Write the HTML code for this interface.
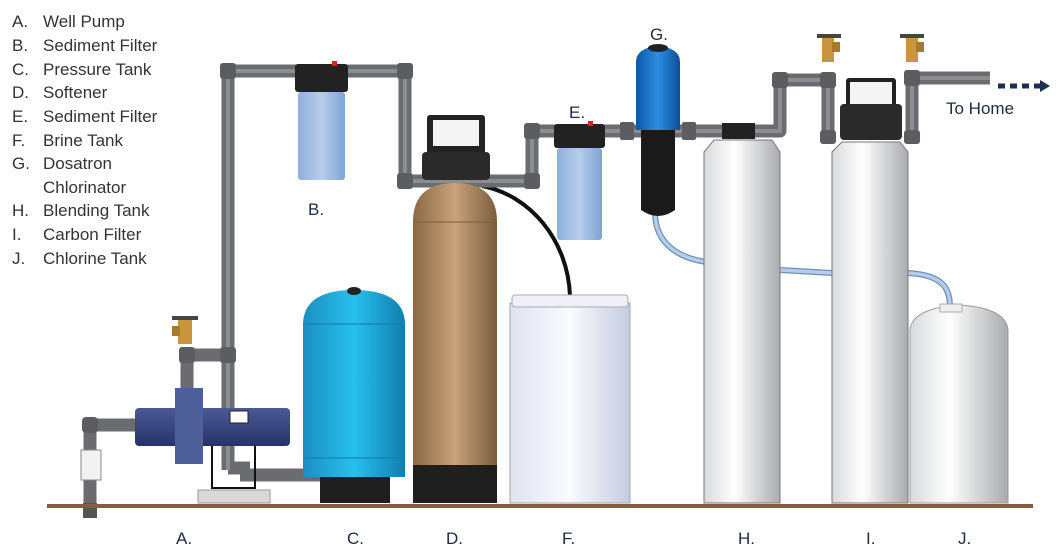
<!DOCTYPE html>
<html><head><meta charset="utf-8"><style>
html,body{margin:0;padding:0;background:#fff;width:1063px;height:554px;overflow:hidden}
svg{display:block}
text{font-family:"Liberation Sans",Arial,sans-serif;fill:#333}
</style></head><body>
<svg width="1063" height="554" viewBox="0 0 1063 554" xmlns="http://www.w3.org/2000/svg">
<defs>
<linearGradient id="tan" x1="0" x2="1"><stop offset="0" stop-color="#8a6a45"/><stop offset=".5" stop-color="#c9a27a"/><stop offset="1" stop-color="#7a5c3c"/></linearGradient>
<linearGradient id="blueT" x1="0" x2="1"><stop offset="0" stop-color="#1a8fc0"/><stop offset=".5" stop-color="#27c0ef"/><stop offset="1" stop-color="#0f7fae"/></linearGradient>
<linearGradient id="white" x1="0" x2="1"><stop offset="0" stop-color="#d8d9db"/><stop offset=".4" stop-color="#fff"/><stop offset="1" stop-color="#a9abae"/></linearGradient>
<linearGradient id="brine" x1="0" x2="1"><stop offset="0" stop-color="#dfe3f0"/><stop offset=".5" stop-color="#fafbff"/><stop offset="1" stop-color="#c5cbe0"/></linearGradient>
<linearGradient id="filt" x1="0" x2="1"><stop offset="0" stop-color="#8fb0dc"/><stop offset=".5" stop-color="#b7cdec"/><stop offset="1" stop-color="#7fa3d5"/></linearGradient>
<linearGradient id="dos" x1="0" x2="1"><stop offset="0" stop-color="#0a58a8"/><stop offset=".5" stop-color="#2e8ee0"/><stop offset="1" stop-color="#0a4f98"/></linearGradient>
<linearGradient id="pump" x1="0" x2="0" y1="0" y2="1"><stop offset="0" stop-color="#4a5a96"/><stop offset="1" stop-color="#26336a"/></linearGradient>
</defs>

<g font-size="17">
<text x="12" y="27">A.</text><text x="43" y="27">Well Pump</text>
<text x="12" y="51">B.</text><text x="43" y="51">Sediment Filter</text>
<text x="12" y="75">C.</text><text x="43" y="75">Pressure Tank</text>
<text x="12" y="98">D.</text><text x="43" y="98">Softener</text>
<text x="12" y="122">E.</text><text x="43" y="122">Sediment Filter</text>
<text x="12" y="146">F.</text><text x="43" y="146">Brine Tank</text>
<text x="12" y="169">G.</text><text x="43" y="169">Dosatron</text>
<text x="43" y="193">Chlorinator</text>
<text x="12" y="216">H.</text><text x="43" y="216">Blending Tank</text>
<text x="12" y="240">I.</text><text x="43" y="240">Carbon Filter</text>
<text x="12" y="264">J.</text><text x="43" y="264">Chlorine Tank</text>
</g>

<g fill="none" stroke="#6f8fb8" stroke-width="6"><path d="M655 212 C655 245 680 258 706 262 M780 270 L832 273 M908 273 C945 275 950 290 950 308"/></g>
<g fill="none" stroke="#b5cdea" stroke-width="3.5"><path d="M655 212 C655 245 680 258 706 262 M780 270 L832 273 M908 273 C945 275 950 290 950 308"/></g>
<path d="M482 186 C530 195 568 240 570 296" fill="none" stroke="#111" stroke-width="4"/>

<g fill="none" stroke="#6b6c70" stroke-width="13" stroke-linejoin="round">
<path d="M90 503 V425 H135"/>
<path d="M187 390 V355 H228"/>
<path d="M228 470 V71 H405 V181 H532 V131 H780 V80 H828 V140"/>
<path d="M228 468 H250 M240 475 H320"/>
<path d="M912 140 V78 H990"/>
</g>
<g fill="none" stroke="#8c8d91" stroke-width="4">
<path d="M228 470 V71 H405 V181 H532 V131 H780 V80 H828 V140"/>
<path d="M912 140 V78 H990"/>
</g>
<path d="M83 503 V518 H97 V503Z" fill="#555"/>
<rect x="81" y="450" width="20" height="30" fill="#f2f2f2" stroke="#888"/>
<g fill="#5c5d61">
<rect x="220" y="63" width="16" height="16" rx="3"/><rect x="397" y="63" width="16" height="16" rx="3"/>
<rect x="397" y="173" width="16" height="16" rx="3"/><rect x="524" y="173" width="16" height="16" rx="3"/>
<rect x="524" y="123" width="16" height="16" rx="3"/><rect x="772" y="72" width="16" height="16" rx="3"/>
<rect x="820" y="72" width="16" height="16" rx="3"/><rect x="904" y="70" width="16" height="16" rx="3"/>
<rect x="220" y="347" width="16" height="16" rx="3"/><rect x="179" y="347" width="16" height="16" rx="3"/>
<rect x="620" y="122" width="14" height="18" rx="2"/><rect x="682" y="122" width="14" height="18" rx="2"/>
<rect x="820" y="130" width="16" height="14" rx="3"/><rect x="904" y="130" width="16" height="14" rx="3"/>
<rect x="82" y="417" width="16" height="16" rx="4"/>
</g>
<rect x="722" y="123" width="33" height="16" fill="#222"/>

<g>
<rect x="172" y="316" width="26" height="4" fill="#444"/><rect x="178" y="320" width="14" height="24" fill="#c8963e"/><rect x="172" y="326" width="8" height="10" fill="#a57a2c"/>
<rect x="817" y="34" width="24" height="4" fill="#444"/><rect x="822" y="38" width="12" height="24" fill="#c8963e"/><rect x="832" y="42" width="8" height="10" fill="#a57a2c"/>
<rect x="900" y="34" width="24" height="4" fill="#444"/><rect x="906" y="38" width="12" height="24" fill="#c8963e"/><rect x="916" y="42" width="8" height="10" fill="#a57a2c"/>
</g>

<g stroke="#1c2e52" stroke-width="5"><path d="M998 86 H1040" stroke-dasharray="7,5"/></g>
<path d="M1040 80 L1050 86 L1040 92Z" fill="#1c2e52"/>
<text x="946" y="114" font-size="17" style="fill:#1c2a48">To Home</text>

<rect x="298" y="92" width="47" height="88" rx="3" fill="url(#filt)"/>
<rect x="295" y="64" width="53" height="28" rx="3" fill="#222"/>
<rect x="332" y="61" width="5" height="5" fill="#d22"/>
<rect x="557" y="148" width="45" height="92" rx="3" fill="url(#filt)"/>
<rect x="554" y="124" width="51" height="24" rx="3" fill="#222"/>
<rect x="588" y="121" width="5" height="5" fill="#d22"/>

<path d="M413 503 V222 Q413 183 455 183 Q497 183 497 222 V503Z" fill="url(#tan)"/>
<line x1="413" y1="222" x2="497" y2="222" stroke="#7a5c3c"/>
<rect x="413" y="465" width="84" height="38" fill="#1f1f1f"/>
<rect x="427" y="115" width="58" height="40" rx="3" fill="#222"/>
<rect x="433" y="120" width="46" height="26" fill="#f4f4f4"/>
<rect x="422" y="152" width="68" height="28" rx="4" fill="#2a2a2a"/>

<path d="M303 477 V325 Q303 290 354 290 Q405 290 405 325 V477Z" fill="url(#blueT)"/>
<line x1="303" y1="324" x2="405" y2="324" stroke="#137aa6"/><line x1="303" y1="458" x2="405" y2="458" stroke="#137aa6"/>
<ellipse cx="354" cy="291" rx="7" ry="4" fill="#222"/>
<rect x="320" y="477" width="70" height="26" fill="#1f1f1f"/>

<rect x="198" y="490" width="72" height="13" fill="#d8d9db" stroke="#999"/>
<path d="M212 443 V488 H255 V443" fill="none" stroke="#111" stroke-width="2"/>
<rect x="135" y="408" width="155" height="38" rx="4" fill="url(#pump)"/>
<rect x="175" y="388" width="28" height="76" fill="#4e5f99"/>
<rect x="230" y="411" width="18" height="12" fill="#fff" stroke="#222"/>

<rect x="510" y="303" width="120" height="200" fill="url(#brine)" stroke="#9aa"/>
<rect x="512" y="295" width="116" height="12" rx="3" fill="#eef0f6" stroke="#aab"/>

<path d="M641 130 V210 Q658 222 675 210 V130Z" fill="#1a1a1a"/>
<path d="M636 130 V62 Q636 48 658 46 Q680 48 680 62 V130Z" fill="url(#dos)"/>
<ellipse cx="658" cy="48" rx="10" ry="4" fill="#222"/>

<path d="M704 503 V152 L714 140 H772 L780 152 V503Z" fill="url(#white)" stroke="#777"/>
<path d="M832 503 V152 L842 142 H900 L908 152 V503Z" fill="url(#white)" stroke="#777"/>
<rect x="846" y="78" width="50" height="30" rx="3" fill="#222"/>
<rect x="850" y="82" width="42" height="22" fill="#f4f4f4"/>
<rect x="840" y="104" width="62" height="36" rx="4" fill="#2a2a2a"/>
<path d="M910 503 V330 Q912 308 960 305 Q1006 308 1008 330 V503Z" fill="url(#white)" stroke="#999"/>
<rect x="940" y="304" width="22" height="8" fill="#eee" stroke="#aaa"/>

<rect x="47" y="504" width="986" height="4" fill="#8a5a44"/>

<g font-size="17" style="fill:#1c2a48">
<text x="176" y="544" style="fill:#1c2a48">A.</text><text x="347" y="544" style="fill:#1c2a48">C.</text><text x="446" y="544" style="fill:#1c2a48">D.</text>
<text x="562" y="544" style="fill:#1c2a48">F.</text><text x="738" y="544" style="fill:#1c2a48">H.</text><text x="866" y="544" style="fill:#1c2a48">I.</text><text x="958" y="544" style="fill:#1c2a48">J.</text>
<text x="308" y="215" style="fill:#1c2a48">B.</text><text x="569" y="118" style="fill:#1c2a48">E.</text><text x="650" y="40" style="fill:#1c2a48">G.</text>
</g>
</svg>
</body></html>
